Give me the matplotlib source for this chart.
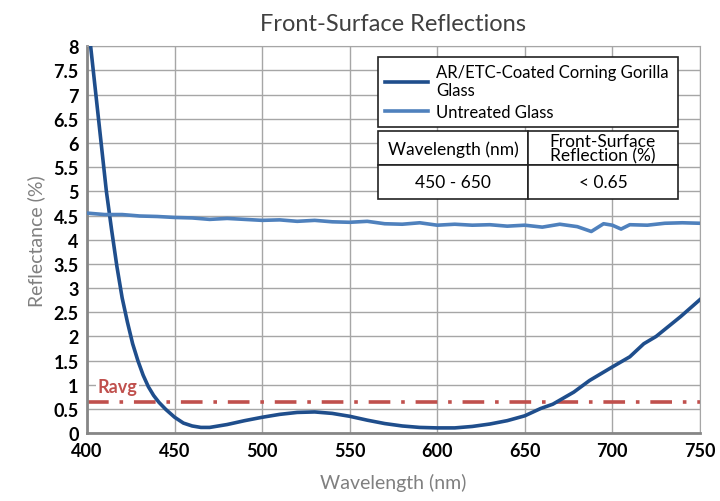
import numpy as np
import matplotlib.pyplot as plt

plt.rcParams['font.family'] = ['Lato', 'DejaVu Sans']

# AR/ETC-coated glass
ar_wl = [400, 402, 405, 408, 411, 414, 417, 420, 423, 426, 429, 432, 435, 438, 441, 445,
         450, 455, 460, 465, 470, 480, 490, 500, 510, 520, 530, 540, 550, 560, 570, 580,
         590, 600, 610, 620, 630, 640, 650, 659, 666, 678, 687, 700, 710, 718, 725, 739, 750]
ar_refl = [8.8, 8.0, 7.0, 6.0, 5.0, 4.2, 3.45, 2.8, 2.3, 1.85, 1.5, 1.2, 0.96, 0.78, 0.64, 0.49,
           0.33, 0.21, 0.15, 0.12, 0.12, 0.18, 0.26, 0.33, 0.39, 0.43, 0.44, 0.41, 0.35, 0.27, 0.2, 0.15,
           0.12, 0.11, 0.11, 0.14, 0.19, 0.26, 0.36, 0.51, 0.6, 0.85, 1.09, 1.37, 1.58, 1.85, 2.0, 2.41, 2.76]

# untreated glass
un_wl = [400, 410, 420, 430, 440, 450, 460, 470, 480, 490, 500, 510, 520, 530, 540,
         550, 560, 570, 580, 590, 600, 610, 620, 630, 640, 650, 660, 670, 680, 688,
         695, 700, 705, 710, 720, 730, 740, 750]
un_refl = [4.55, 4.52, 4.52, 4.49, 4.48, 4.46, 4.45, 4.42, 4.44, 4.42, 4.40, 4.41, 4.38, 4.40, 4.37,
           4.36, 4.38, 4.33, 4.32, 4.35, 4.30, 4.32, 4.30, 4.31, 4.28, 4.30, 4.26, 4.32, 4.27, 4.17,
           4.33, 4.30, 4.22, 4.31, 4.30, 4.34, 4.35, 4.34]

ravg = 0.65
x_ticks = [400, 450, 500, 550, 600, 650, 700, 750]
y_ticks = [0, 0.5, 1, 1.5, 2, 2.5, 3, 3.5, 4, 4.5, 5, 5.5, 6, 6.5, 7, 7.5, 8]
table_rows = [["Wavelength (nm)", "Front-Surface\nReflection (%)"],
              ["450 - 650", "< 0.65"]]

fig = plt.figure(figsize=(7.2, 5.02), dpi=100)
ax = fig.add_axes([0.121, 0.135, 0.851, 0.771])

ax.plot(ar_wl, ar_refl, color='#1f4e8c', lw=2.6, label='AR/ETC-Coated Corning Gorilla\nGlass', zorder=3)
ax.plot(un_wl, un_refl, color='#4f81bd', lw=2.6, label='Untreated Glass', zorder=3)
ax.axhline(ravg, color='#c0504d', lw=2.6, ls=(0, (6, 3, 1, 3)), zorder=2)
ax.text(406, 0.97, 'Ravg', color='#c0504d', fontsize=13, fontweight='bold', va='center', ha='left',
        bbox=dict(facecolor='white', edgecolor='none', pad=1), zorder=2.5)

ax.set_xlim(400, 750)
ax.set_ylim(0, 8)
ax.set_xticks(x_ticks)
ax.set_yticks(y_ticks)
ax.set_yticklabels([('%g' % v) for v in y_ticks])
ax.tick_params(length=0, labelsize=13, pad=6)
for lab in ax.get_xticklabels() + ax.get_yticklabels():
    lab.set_fontweight('bold')
ax.grid(True, color='#a6a6a6', lw=1)
for s in ax.spines.values():
    s.set_color('#a6a6a6')
ax.spines['left'].set_color('#868686')
ax.spines['bottom'].set_color('#868686')
ax.spines['left'].set_linewidth(2)
ax.spines['bottom'].set_linewidth(2)

ax.set_title('Front-Surface Reflections', fontsize=17, color='#404040', pad=12)
ax.set_xlabel('Wavelength (nm)', fontsize=14, color='#808080', labelpad=10)
ax.set_ylabel('Reflectance (%)', fontsize=14, color='#808080', labelpad=6)

leg = ax.legend(loc='upper left', bbox_to_anchor=(0.475, 0.791, 0.489, 0.181), mode='expand',
                fancybox=False, edgecolor='#222222', framealpha=1, fontsize=12,
                handlelength=2.6, handletextpad=0.5, borderaxespad=0, labelspacing=0.35)
leg.get_frame().set_linewidth(1.2)

tbl = ax.table(cellText=table_rows, cellLoc='center', bbox=[0.475, 0.605, 0.489, 0.175])
tbl.auto_set_font_size(False)
tbl.set_fontsize(12.5)
for (r, c), cell in tbl.get_celld().items():
    cell.set_edgecolor('#222222')
    cell.set_linewidth(1.2)
    cell.set_facecolor('white')
    cell.get_text().set_linespacing(0.85)
tbl.set_zorder(5)

fig.savefig('out.png', dpi=100)
